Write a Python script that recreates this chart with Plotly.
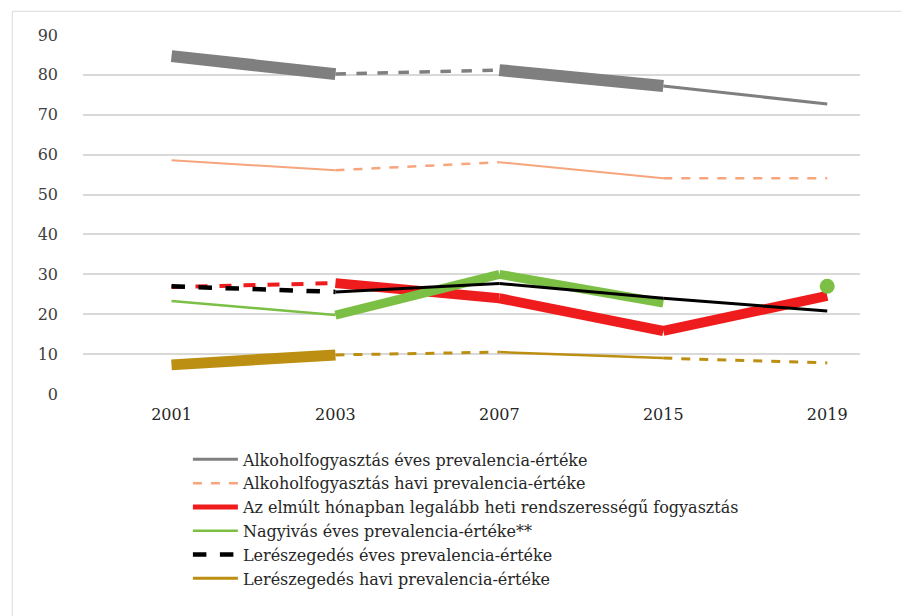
import plotly.graph_objects as go

# category labels
years = ["2001", "2003", "2007", "2015", "2019"]

# series values (percent)
alk_eves = [84.7, 80.2, 81.2, 77.2, 72.7]
alk_havi = [58.6, 56.1, 58.1, 54.1, 54.1]
heti_rendsz = [26.8, 27.8, 24.0, 15.8, 24.6]
nagyivas = [23.3, 19.8, 30.0, 22.8, 27.0]
leresz_eves = [27.0, 25.6, 27.7, 24.0, 20.8]
leresz_havi = [7.3, 9.8, 10.5, 9.0, 7.8]

names = [
    "Alkoholfogyasztás éves prevalencia-értéke",
    "Alkoholfogyasztás havi prevalencia-értéke",
    "Az elmúlt hónapban legalább heti rendszerességű fogyasztás",
    "Nagyivás éves prevalencia-értéke**",
    "Lerészegedés éves prevalencia-értéke",
    "Lerészegedés havi prevalencia-értéke",
]

# how each segment between two surveys is drawn
alk_eves_seg = ["thick", "dash", "thick", "thin"]
alk_havi_seg = ["thin", "dash", "thin", "dash"]
heti_seg = ["dash", "thick", "thick", "thick"]
nagyivas_seg = ["thin", "thick", "thick", None]
leresz_eves_seg = ["dash", "thin", "thin", "thin"]
leresz_havi_seg = ["thick", "dash", "thin", "dash"]

series = [
    # values, segments, colour, widths (thick, thin, dash), legend line
    (alk_eves, alk_eves_seg, "#7f7f7f", (12, 3, 3.5), dict(width=3, dash="solid")),
    (alk_havi, alk_havi_seg, "#f6a57c", (8, 2, 2.5), dict(width=2.5, dash="dash")),
    (heti_rendsz, heti_seg, "#ee1c1c", (10, 2, 4), dict(width=5, dash="solid")),
    (nagyivas, nagyivas_seg, "#7cbf45", (9, 2.5, 2.5), dict(width=2.5, dash="solid")),
    (leresz_eves, leresz_eves_seg, "#000000", (8, 3, 4.5), dict(width=4.5, dash="dash")),
    (leresz_havi, leresz_havi_seg, "#bc8f12", (11, 2.5, 3), dict(width=3, dash="solid")),
]

SERIF = "DejaVu Serif, Liberation Serif, serif"

fig = go.Figure()

for k, (vals, segs, col, (w_thick, w_thin, w_dash), leg) in enumerate(series):
    grp = "g%d" % k
    for i, s in enumerate(segs):
        if s is None:
            continue
        fig.add_trace(go.Scatter(
            x=years[i:i + 2], y=vals[i:i + 2], mode="lines",
            line=dict(color=col,
                      width={"thick": w_thick, "thin": w_thin, "dash": w_dash}[s],
                      dash="dash" if s == "dash" else "solid"),
            legendgroup=grp, showlegend=False, hoverinfo="skip",
        ))
    # lone point where there is no segment reaching it
    for i in range(len(vals)):
        left = segs[i - 1] if i > 0 else None
        right = segs[i] if i < len(segs) else None
        if left is None and right is None:
            fig.add_trace(go.Scatter(
                x=[years[i]], y=[vals[i]], mode="markers",
                marker=dict(color=col, size=15),
                legendgroup=grp, showlegend=False, hoverinfo="skip",
            ))
    # legend entry
    fig.add_trace(go.Scatter(
        x=[None], y=[None], mode="lines", name=names[k],
        line=dict(color=col, **leg), legendgroup=grp, showlegend=True,
    ))

# faint frame around the whole picture
fig.add_shape(type="rect", xref="paper", yref="paper",
              x0=-0.091, x1=1.067, y0=-0.626, y1=1.066,
              line=dict(color="#d9d9d9", width=1), layer="below")

fig.update_layout(
    width=909, height=616,
    margin=dict(l=75, r=57, t=27, b=230),
    plot_bgcolor="white", paper_bgcolor="white",
    font=dict(family=SERIF, size=16, color="#404040"),
    legend=dict(
        x=0.135, y=-0.135, xanchor="left", yanchor="top",
        font=dict(family=SERIF, size=16, color="#262626"),
        itemwidth=45, tracegroupgap=0, bgcolor="rgba(0,0,0,0)",
    ),
    xaxis=dict(
        type="category", range=[-0.54, 4.2],
        showgrid=False, showline=False, zeroline=False,
        ticks="", ticklabelstandoff=9,
        tickfont=dict(family=SERIF, size=16, color="#262626"),
    ),
    yaxis=dict(
        range=[0, 90], dtick=10, showgrid=True, gridcolor="#d9d9d9",
        gridwidth=1.5, zeroline=False, showline=False, ticks="",
        ticklabelstandoff=24, tickfont=dict(family=SERIF, size=16, color="#404040"),
    ),
)

fig.write_html("out.html")
